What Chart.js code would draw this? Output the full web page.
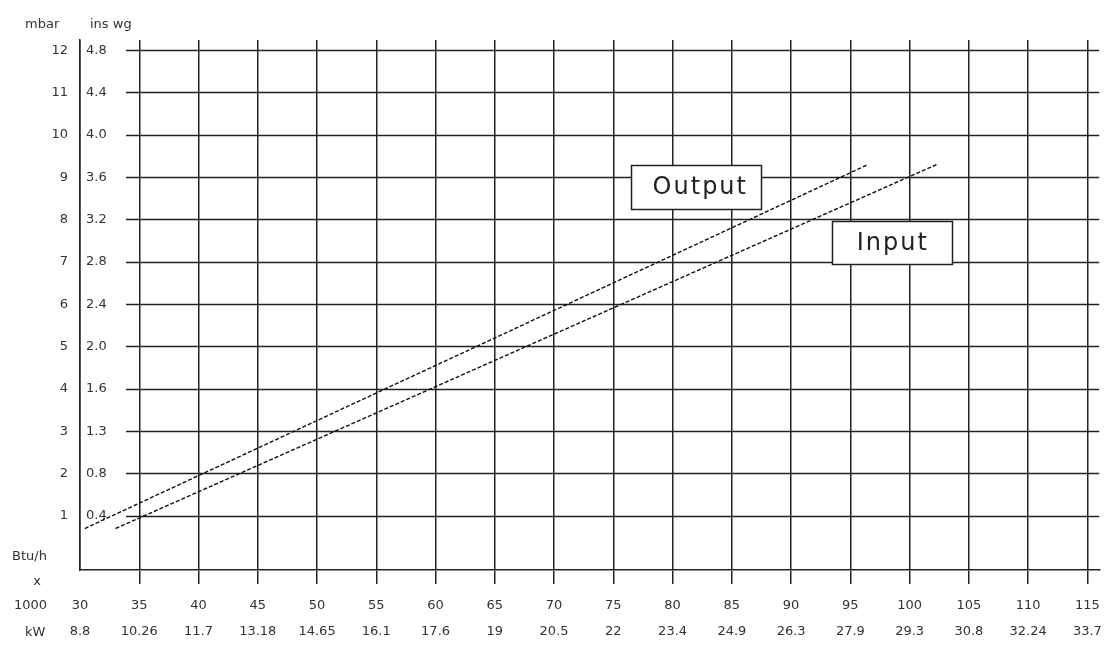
<!DOCTYPE html>
<html><head><meta charset="utf-8">
<script src="https://cdn.jsdelivr.net/npm/chart.js@4/dist/chart.umd.min.js"></script>
<style>html,body{margin:0;padding:0;background:#fff}#wrap{width:1110px;height:646px;position:relative}</style>
</head><body><div id="wrap"><canvas id="c"></canvas></div>
<script>
// ---- data ----
const btuTicks = [30,35,40,45,50,55,60,65,70,75,80,85,90,95,100,105,110,115];
const kwLabels = ['8.8','10.26','11.7','13.18','14.65','16.1','17.6','19','20.5','22','23.4','24.9','26.3','27.9','29.3','30.8','32.24','33.7'];
const mbarTicks = [1,2,3,4,5,6,7,8,9,10,11,12];
const inswgLabels = ['0.4','0.8','1.3','1.6','2.0','2.4','2.8','3.2','3.6','4.0','4.4','4.8'];
const seriesNames = ['Output','Input'];
const outputX = [30.4, 96.5];
const outputY = [0.7, 9.3];
const inputX = [33.0, 102.3];
const inputY = [0.7, 9.3];

const INK = '#222';
const TXT = '#333';
const FONT = '"DejaVu Sans", "Liberation Sans", Arial, sans-serif';

const toPts = (xs, ys) => xs.map((x, i) => ({x, y: ys[i]}));

const decor = {
  id: 'decor',
  beforeDatasetsDraw(chart) {
    const {ctx, chartArea, scales: {x, y}} = chart;
    ctx.save();
    // horizontal grid lines
    ctx.strokeStyle = INK; ctx.lineWidth = 1.5;
    mbarTicks.forEach(v => {
      const py = Math.round(y.getPixelForValue(v)) + 0.5;
      ctx.beginPath(); ctx.moveTo(126, py); ctx.lineTo(chartArea.right, py); ctx.stroke();
    });
    // ins wg labels
    ctx.fillStyle = TXT; ctx.font = '13px ' + FONT;
    ctx.textAlign = 'left'; ctx.textBaseline = 'middle';
    mbarTicks.forEach((v, i) => {
      ctx.fillText(inswgLabels[i], chartArea.left + 6, y.getPixelForValue(v));
    });
    // headers
    ctx.textAlign = 'left';
    ctx.fillText('mbar', 25, 25);
    ctx.fillText('ins wg', 90, 25);
    ctx.fillText('Btu/h', 12, 557);
    ctx.textAlign = 'center';
    ctx.fillText('x', 37, 582);
    ctx.textAlign = 'left';
    ctx.fillText('1000', 14, x.bottom - 40);
    ctx.fillText('kW', 25, x.bottom - 13);
    ctx.restore();
  },
  afterDatasetsDraw(chart) {
    const {ctx, scales: {x, y}} = chart;
    const boxes = [
      {text: seriesNames[0], cx: 82.0, cy: 8.77, w: 130, h: 44, dx: 4},
      {text: seriesNames[1], cx: 98.5, cy: 7.46, w: 120, h: 43, dx: 1}
    ];
    ctx.save();
    boxes.forEach(b => {
      const px = x.getPixelForValue(b.cx), py = y.getPixelForValue(b.cy);
      const l = Math.round(px - b.w / 2) + 0.5, t = Math.round(py - b.h / 2) + 0.5;
      ctx.fillStyle = '#fff';
      ctx.fillRect(l, t, b.w, b.h);
      ctx.strokeStyle = INK; ctx.lineWidth = 1.5;
      ctx.strokeRect(l, t, b.w, b.h);
      ctx.fillStyle = '#222';
      ctx.font = '24px ' + FONT;
      try { ctx.letterSpacing = '2px'; } catch (e) {}
      ctx.textAlign = 'center'; ctx.textBaseline = 'middle';
      ctx.fillText(b.text, px + b.dx, py + 1);
    });
    ctx.restore();
  }
};

new Chart(document.getElementById('c'), {
  type: 'scatter',
  data: {
    datasets: [
      {label: seriesNames[0], data: toPts(outputX, outputY), showLine: true, pointRadius: 0,
       borderColor: '#111', borderWidth: 1.4, borderDash: [4, 2]},
      {label: seriesNames[1], data: toPts(inputX, inputY), showLine: true, pointRadius: 0,
       borderColor: '#111', borderWidth: 1.4, borderDash: [4, 2]}
    ]
  },
  options: {
    responsive: true, maintainAspectRatio: false, animation: false,
    layout: {padding: {top: 40, right: 10, left: 0, bottom: 0}},
    plugins: {legend: {display: false}, tooltip: {enabled: false}},
    scales: {
      x: {
        type: 'linear', min: 30, max: 116,
        afterBuildTicks: s => { s.ticks = btuTicks.map(v => ({value: v})); },
        afterFit: s => { s.height = 76; },
        grid: {color: INK, lineWidth: 1.5, drawTicks: true, tickLength: 14,
               tickColor: c => (c.tick && c.tick.value === btuTicks[0]) ? 'rgba(0,0,0,0)' : INK},
        border: {display: true, color: INK, width: 1.5},
        ticks: {
          autoSkip: false, maxRotation: 0, padding: 8, color: TXT,
          font: {family: FONT, size: 13, lineHeight: 2.05},
          callback: (v) => { const i = btuTicks.indexOf(v); return [String(btuTicks[i]), kwLabels[i]]; }
        }
      },
      y: {
        type: 'linear', min: -0.28, max: 12.24,
        afterBuildTicks: s => { s.ticks = mbarTicks.map(v => ({value: v})); },
        afterFit: s => { s.width = 80; },
        grid: {display: false, drawTicks: false},
        border: {display: true, color: INK, width: 1.5},
        ticks: {padding: 12, color: TXT, font: {family: FONT, size: 13}}
      }
    }
  },
  plugins: [decor]
});
</script>
</body></html>
